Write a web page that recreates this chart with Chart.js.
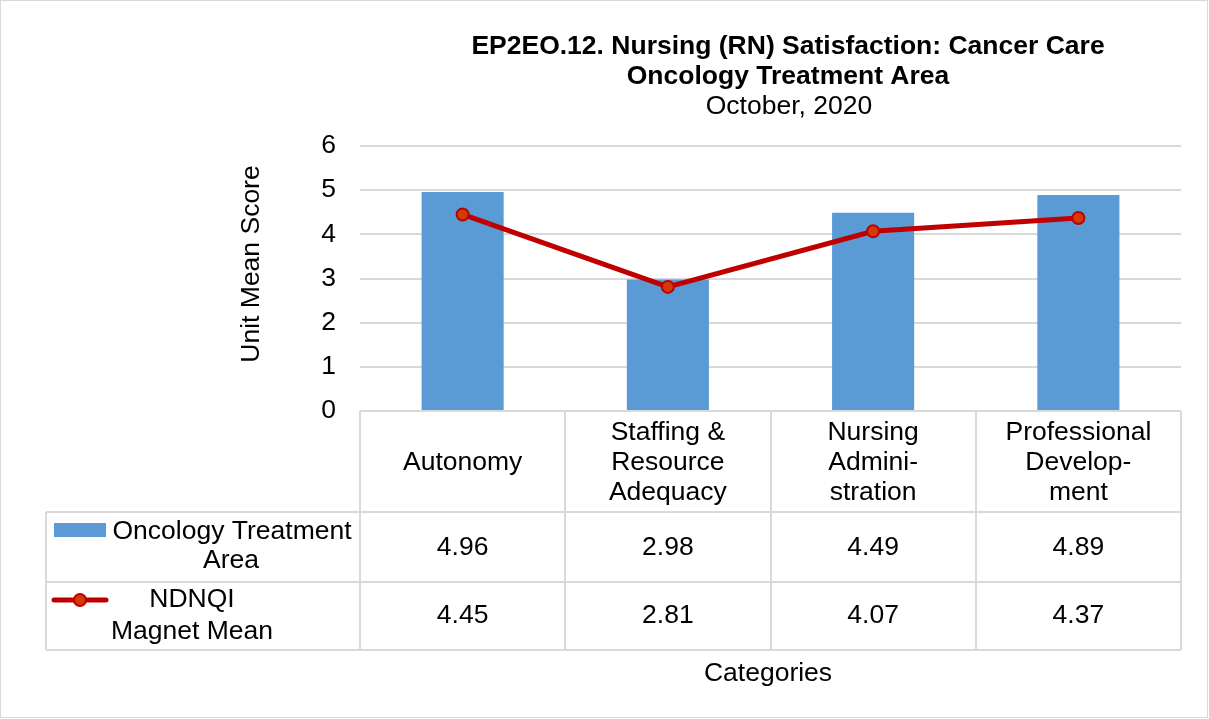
<!DOCTYPE html>
<html>
<head>
<meta charset="utf-8">
<script src="https://cdn.jsdelivr.net/npm/chart.js@4"></script>
<style>
  html, body { margin: 0; padding: 0; background: #fff; }
  #wrap { width: 1209px; height: 719px; position: relative; }
</style>
</head>
<body>
<div id="wrap"><canvas id="satisfactionChart" width="1209" height="719"></canvas></div>
<script>
const CATEGORIES = ['Autonomy', 'Staffing & Resource Adequacy', 'Nursing Administration', 'Professional Development']
const CATEGORY_LINES = [
  ['Autonomy'],
  ['Staffing &', 'Resource', 'Adequacy'],
  ['Nursing', 'Admini-', 'stration'],
  ['Professional', 'Develop-', 'ment'],
]
const UNIT_SCORES = [4.96, 2.98, 4.49, 4.89]
const MAGNET_MEANS = [4.45, 2.81, 4.07, 4.37]
const SERIES_LINES = [
  ['Oncology Treatment', 'Area'],
  ['NDNQI', 'Magnet Mean'],
]
const TITLE_LINES = ['EP2EO.12. Nursing (RN) Satisfaction: Cancer Care', 'Oncology Treatment Area']
const SUBTITLE = 'October, 2020'
const Y_TITLE = 'Unit Mean Score'
const X_TITLE = 'Categories'

const FONT = "'Liberation Sans', Arial, sans-serif"
const FONT_SIZE = 26.5
const BAR_COLOR = '#5B9BD5'
const LINE_COLOR = '#C00000'
const POINT_FILL = '#D13B0A'
const GRID_COLOR = '#D9D9D9'

const tablePlugin = {
  id: 'tablePlugin',
  afterDraw(chart) {
    const { ctx, scales } = chart
    const x = scales.x
    const area = chart.chartArea
    const colW = x.getPixelForValue(1) - x.getPixelForValue(0)
    const rowTop = area.bottom
    const row1 = 512
    const row2 = 582
    const rowEnd = 650
    const tableLeft = 46

    ctx.save()
    ctx.strokeStyle = GRID_COLOR

    // outer frame
    ctx.lineWidth = 1
    ctx.strokeRect(0.5, 0.5, 1207, 717)
    ctx.lineWidth = 2

    // table lines
    ctx.beginPath()
    ctx.moveTo(area.left, rowTop)
    ctx.lineTo(area.right, rowTop)
    ctx.moveTo(tableLeft, row1)
    ctx.lineTo(area.right, row1)
    ctx.moveTo(tableLeft, row2)
    ctx.lineTo(area.right, row2)
    ctx.moveTo(tableLeft, rowEnd)
    ctx.lineTo(area.right, rowEnd)
    ctx.moveTo(tableLeft, row1)
    ctx.lineTo(tableLeft, rowEnd)
    for (let i = 0; i <= CATEGORIES.length; i++) {
      const px = Math.round(x.getPixelForValue(i) - colW / 2)
      ctx.moveTo(px, rowTop)
      ctx.lineTo(px, rowEnd)
    }
    ctx.stroke()

    ctx.fillStyle = '#000'
    ctx.textAlign = 'center'
    ctx.textBaseline = 'middle'
    ctx.font = `${FONT_SIZE}px ${FONT}`

    // category headers
    CATEGORY_LINES.forEach((lines, i) => {
      const cx = x.getPixelForValue(i)
      const start = 463 - ((lines.length - 1) * 30) / 2
      lines.forEach((line, j) => ctx.fillText(line, cx, start + j * 30))
    })

    // values
    UNIT_SCORES.forEach((v, i) => ctx.fillText(v.toFixed(2), x.getPixelForValue(i), 548))
    MAGNET_MEANS.forEach((v, i) => ctx.fillText(v.toFixed(2), x.getPixelForValue(i), 616))

    // legend keys
    ctx.fillStyle = BAR_COLOR
    ctx.fillRect(54, 523, 52, 14)
    ctx.fillStyle = '#000'
    ctx.fillText(SERIES_LINES[0][0], 232, 532)
    ctx.fillText(SERIES_LINES[0][1], 231, 561)

    ctx.strokeStyle = LINE_COLOR
    ctx.lineWidth = 5
    ctx.lineCap = 'round'
    ctx.beginPath()
    ctx.moveTo(54, 600)
    ctx.lineTo(106, 600)
    ctx.stroke()
    ctx.beginPath()
    ctx.arc(80, 600, 6, 0, Math.PI * 2)
    ctx.fillStyle = POINT_FILL
    ctx.fill()
    ctx.lineWidth = 2
    ctx.stroke()
    ctx.fillStyle = '#000'
    ctx.fillText(SERIES_LINES[1][0], 192, 600)
    ctx.fillText(SERIES_LINES[1][1], 192, 632)

    // titles
    ctx.font = `bold ${FONT_SIZE}px ${FONT}`
    ctx.fillText(TITLE_LINES[0], 788, 47)
    ctx.fillText(TITLE_LINES[1], 788, 77)
    ctx.font = `${FONT_SIZE}px ${FONT}`
    ctx.fillText(SUBTITLE, 789, 107)
    ctx.fillText(X_TITLE, 768, 674)

    ctx.save()
    ctx.translate(252, 264)
    ctx.rotate(-Math.PI / 2)
    ctx.fillText(Y_TITLE, 0, 0)
    ctx.restore()

    ctx.restore()
  },
}

function initializeChart() {
  const canvas = document.getElementById('satisfactionChart')
  if (!canvas || typeof Chart === 'undefined') {
    return null
  }

  return new Chart(canvas, {
    data: {
      labels: CATEGORIES,
      datasets: [
        {
          type: 'line',
          label: SERIES_LINES[1].join(' '),
          data: MAGNET_MEANS,
          borderColor: LINE_COLOR,
          borderWidth: 5,
          pointRadius: 6,
          pointBorderWidth: 2,
          pointBackgroundColor: POINT_FILL,
          pointBorderColor: LINE_COLOR,
          tension: 0,
          order: 0,
        },
        {
          type: 'bar',
          label: SERIES_LINES[0].join(' '),
          data: UNIT_SCORES,
          backgroundColor: BAR_COLOR,
          barPercentage: 0.4,
          categoryPercentage: 1,
          order: 1,
        },
      ],
    },
    options: {
      responsive: false,
      animation: false,
      layout: {
        padding: { top: 146, bottom: 308, right: 28, left: 0 },
      },
      scales: {
        x: {
          display: false,
          offset: true,
        },
        y: {
          min: 0,
          max: 6,
          afterFit(scale) {
            scale.width = 360
          },
          border: { display: false },
          grid: { color: GRID_COLOR, lineWidth: 2, drawTicks: false },
          ticks: {
            stepSize: 1,
            padding: 24,
            color: '#000',
            font: { family: FONT, size: FONT_SIZE },
          },
        },
      },
      plugins: {
        legend: { display: false },
        tooltip: { enabled: false },
      },
    },
    plugins: [tablePlugin],
  })
}

globalThis.addEventListener('DOMContentLoaded', () => {
  initializeChart()
})
</script>
</body>
</html>
